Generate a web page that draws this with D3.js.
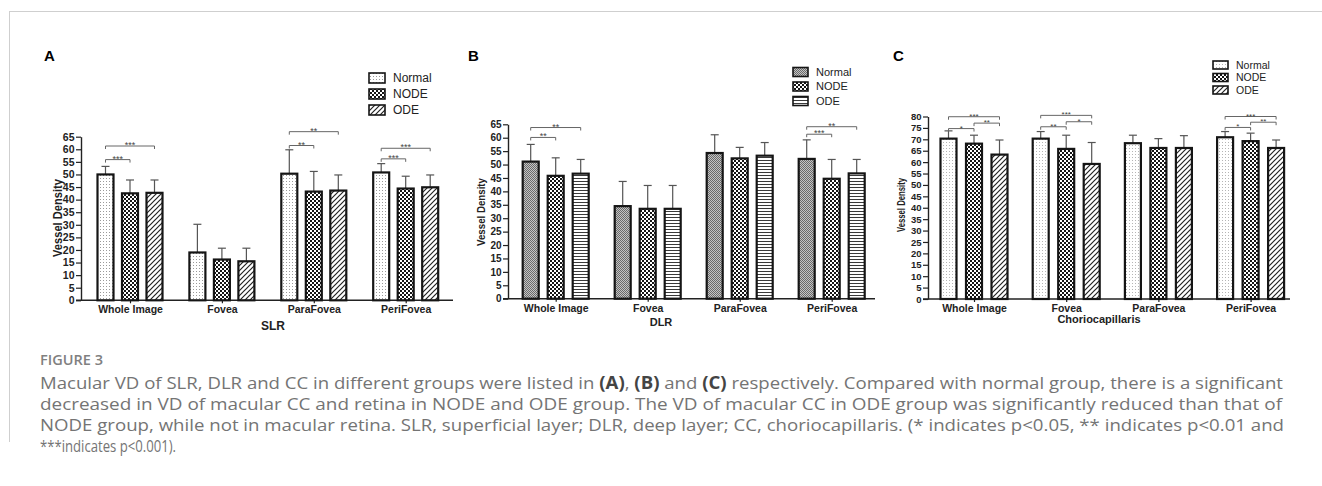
<!DOCTYPE html>
<html><head><meta charset="utf-8">
<script src="https://cdn.jsdelivr.net/npm/d3@7"></script>
<style>body{margin:0;background:#fff}svg{display:block}</style>
</head><body>
<script>
// ---------------- DATA ----------------
const categories = ["Whole Image", "Fovea", "ParaFovea", "PeriFovea"];
const groups = ["Normal", "NODE", "ODE"];

// SLR (A)
const slrNormal = [50.0, 19.0, 50.3, 50.8];
const slrNormalSD = [3.2, 11.2, 9.5, 3.5];
const slrNODE = [42.5, 16.2, 43.2, 44.4];
const slrNODESD = [5.3, 4.5, 8.0, 4.9];
const slrODE = [42.7, 15.5, 43.6, 44.9];
const slrODESD = [5.1, 5.2, 6.2, 4.9];
const slrSig = [[0, 0, 1, 55.9, "***"], [0, 0, 2, 61.3, "***"], [2, 0, 1, 61.5, "**"], [2, 0, 2, 67.0, "**"], [3, 0, 1, 56.2, "***"], [3, 0, 2, 60.4, "***"]];
const slrTicks = [0, 5, 10, 15, 20, 25, 30, 35, 40, 45, 50, 55, 60, 65];

// DLR (B)
const dlrNormal = [51.1, 34.5, 54.3, 52.1];
const dlrNormalSD = [6.4, 9.2, 6.8, 7.1];
const dlrNODE = [45.8, 33.5, 52.3, 44.7];
const dlrNODESD = [6.7, 8.7, 4.1, 7.2];
const dlrODE = [46.6, 33.5, 53.3, 46.7];
const dlrODESD = [5.3, 8.7, 4.9, 5.2];
const dlrSig = [[0, 0, 1, 60.1, "**"], [0, 0, 2, 63.8, "**"], [3, 0, 1, 61.3, "***"], [3, 0, 2, 64.1, "**"]];
const dlrTicks = [0, 5, 10, 15, 20, 25, 30, 35, 40, 45, 50, 55, 60, 65];

// Choriocapillaris (C)
const ccNormal = [70.3, 70.3, 68.3, 70.9];
const ccNormalSD = [3.4, 3.1, 3.5, 2.5];
const ccNODE = [68.1, 65.8, 66.2, 69.2];
const ccNODESD = [3.7, 6.0, 4.1, 3.5];
const ccODE = [63.3, 59.2, 66.2, 66.2];
const ccODESD = [6.4, 9.4, 5.4, 3.5];
const ccSig = [[0, 0, 1, 74.7, "*"], [0, 1, 2, 77.1, "**"], [0, 0, 2, 79.9, "***"], [1, 0, 1, 75.5, "**"], [1, 1, 2, 77.7, "*"], [1, 0, 2, 80.5, "***"], [3, 0, 1, 75.2, "*"], [3, 1, 2, 77.5, "**"], [3, 0, 2, 80.0, "***"]];
const ccTicks = [0, 5, 10, 15, 20, 25, 30, 35, 40, 45, 50, 55, 60, 65, 70, 75, 80];

const yTitle = "Vessel Density";
const figLabel = "FIGURE 3";
const captionLines = [
  [["Macular VD of SLR, DLR and CC in different groups were listed in ", 0], ["(A)", 1], [", ", 0], ["(B)", 1], [" and ", 0], ["(C)", 1], [" respectively. Compared with normal group, there is a significant", 0]],
  [["decreased in VD of macular CC and retina in NODE and ODE group. The VD of macular CC in ODE group was significantly reduced than that of", 0]],
  [["NODE group, while not in macular retina. SLR, superficial layer; DLR, deep layer; CC, choriocapillaris. (* indicates p<0.05, ** indicates p<0.01 and", 0]],
  [["***indicates p<0.001).", 0]]
];

// ---------------- DRAWING ----------------
const FONT = "'Liberation Sans', Arial, sans-serif";
const svg = d3.select("body").append("svg").attr("width", 1322).attr("height", 486);
const defs = svg.append("defs");
function pat(id, w, h, draw) {
  const p = defs.append("pattern").attr("id", id).attr("patternUnits", "userSpaceOnUse").attr("width", w).attr("height", h);
  draw(p);
}
pat("dotsA", 3, 3, p => { p.append("rect").attr("width", 3).attr("height", 3).attr("fill", "#fff"); p.append("rect").attr("x", 1).attr("y", 1).attr("width", 1).attr("height", 1).attr("fill", "#9a9a9a"); });
pat("dotsC", 3, 3, p => { p.append("rect").attr("width", 3).attr("height", 3).attr("fill", "#fff"); p.append("rect").attr("x", 1).attr("y", 1).attr("width", 1).attr("height", 1).attr("fill", "#b5b5b5"); });
pat("checker", 4, 4, p => { p.append("rect").attr("width", 4).attr("height", 4).attr("fill", "#151515"); p.append("rect").attr("x", 0).attr("y", 0).attr("width", 2).attr("height", 2).attr("fill", "#fff"); p.append("rect").attr("x", 2).attr("y", 2).attr("width", 2).attr("height", 2).attr("fill", "#fff"); });
pat("diag", 5, 5, p => { p.append("rect").attr("width", 5).attr("height", 5).attr("fill", "#fff"); p.append("path").attr("d", "M0,5L5,0M-1,1L1,-1M4,6L6,4").attr("stroke", "#222").attr("stroke-width", 1.2); });
pat("greyB", 2, 2, p => { p.append("rect").attr("width", 2).attr("height", 2).attr("fill", "#c4c4c4"); p.append("rect").attr("width", 1).attr("height", 1).attr("fill", "#6a6a6a"); p.append("rect").attr("x", 1).attr("y", 1).attr("width", 1).attr("height", 1).attr("fill", "#6a6a6a"); });
pat("hlines", 3, 3, p => { p.append("rect").attr("width", 3).attr("height", 3).attr("fill", "#fff"); p.append("rect").attr("y", 1).attr("width", 3).attr("height", 1).attr("fill", "#3a3a3a"); });

// frame lines
svg.append("line").attr("x1", 9).attr("x2", 1322).attr("y1", 11.5).attr("y2", 11.5).attr("stroke", "#cfcfcf");
svg.append("line").attr("x1", 9.5).attr("x2", 9.5).attr("y1", 11).attr("y2", 442).attr("stroke", "#cfcfcf");

function drawPanel(c) {
  const g = svg.append("g").style("font-family", FONT);
  const y = d3.scaleLinear().domain([0, c.yMax]).range([c.y0, c.yTop]);
  const x = d3.scalePoint().domain(categories).range([c.c0, c.c0 + c.step * 3]);
  const xs = d3.scalePoint().domain(groups).range([-c.off, c.off]);

  // y axis
  const ya = g.append("g").attr("transform", `translate(${c.x0},0)`)
    .call(d3.axisLeft(y).tickValues(c.ticks).tickSize(c.tickLen).tickSizeOuter(0).tickPadding(1.5));
  ya.select(".domain").attr("stroke", "#222").attr("stroke-width", 1.4);
  ya.selectAll(".tick line").attr("stroke", "#222").attr("stroke-width", 1.2);
  ya.selectAll(".tick text").attr("fill", "#222").style("font-size", c.tickFs + "px").style("font-weight", "bold").style("font-family", FONT);

  // x axis
  const xa = g.append("g").attr("transform", `translate(0,${c.y0})`)
    .call(d3.axisBottom(x).tickSize(3).tickPadding(2.5));
  xa.select(".domain").remove();
  xa.selectAll(".tick line").attr("stroke", "#222").attr("stroke-width", 1.2);
  xa.selectAll(".tick text").attr("fill", "#222").style("font-size", c.catFs + "px").style("font-weight", "bold").style("font-family", FONT);
  g.append("line").attr("x1", c.x0 - c.tickLen).attr("x2", c.x1).attr("y1", c.y0).attr("y2", c.y0).attr("stroke", "#222").attr("stroke-width", 1.4);

  // bars
  groups.forEach((gr, gi) => {
    const m = c.means[gi], s = c.sds[gi];
    categories.forEach((cat, ci) => {
      const cx = x(cat) + xs(gr);
      g.append("line").attr("x1", cx).attr("x2", cx).attr("y1", y(m[ci])).attr("y2", y(m[ci] + s[ci])).attr("stroke", "#555").attr("stroke-width", 1.2);
      g.append("line").attr("x1", cx - 4).attr("x2", cx + 4).attr("y1", y(m[ci] + s[ci])).attr("y2", y(m[ci] + s[ci])).attr("stroke", "#555").attr("stroke-width", 1.2);
      g.append("rect").attr("x", cx - c.barW / 2).attr("y", y(m[ci])).attr("width", c.barW).attr("height", c.y0 - y(m[ci]))
        .attr("fill", `url(#${c.pats[gi]})`).attr("stroke", "#151515").attr("stroke-width", 2.2);
    });
  });

  // significance brackets
  c.sig.forEach(([ci, a, b, v, lab]) => {
    const xa1 = x(categories[ci]) + xs(groups[a]), xb1 = x(categories[ci]) + xs(groups[b]), yy = y(v);
    g.append("path").attr("d", `M${xa1},${yy + 3}V${yy}H${xb1}V${yy + 3}`).attr("fill", "none").attr("stroke", "#666").attr("stroke-width", 1);
    g.append("text").attr("x", (xa1 + xb1) / 2).attr("y", yy + 2).attr("text-anchor", "middle").attr("fill", "#444").style("font-size", c.starFs + "px").text(lab);
  });

  // titles
  g.append("text").attr("transform", `translate(${c.ytX},${c.ytY}) rotate(-90)`).attr("text-anchor", "middle").attr("fill", "#222")
    .style("font-size", c.ytFs + "px").style("font-weight", "bold").attr("textLength", c.ytLen).attr("lengthAdjust", "spacingAndGlyphs").text(yTitle);
  g.append("text").attr("x", c.xtX).attr("y", c.xtY).attr("text-anchor", "middle").attr("fill", "#222").style("font-size", c.xtFs + "px").style("font-weight", "bold").text(c.xTitle);
  g.append("text").attr("x", c.lx).attr("y", c.ly).attr("fill", "#000").style("font-size", "15px").style("font-weight", "bold").text(c.label);

  // legend
  groups.forEach((gr, gi) => {
    const yy = c.legY + gi * c.legDy;
    g.append("rect").attr("x", c.legX).attr("y", yy - c.legH / 2).attr("width", c.legW).attr("height", c.legH)
      .attr("fill", `url(#${c.pats[gi]})`).attr("stroke", "#151515").attr("stroke-width", 1.6);
    g.append("text").attr("x", c.legX + c.legW + 8).attr("y", yy).attr("dy", "0.36em").attr("fill", "#222").style("font-size", c.legFs + "px").text(gr);
  });
}

drawPanel({
  label: "A", lx: 44, ly: 61, xTitle: "SLR", xtX: 273, xtY: 330, xtFs: 12,
  x0: 81, x1: 453, y0: 300.3, yTop: 136.7, yMax: 65, ticks: slrTicks, tickLen: 5, tickFs: 10.5,
  c0: 130, step: 91.9, off: 24.5, barW: 16, catFs: 10.5, starFs: 9,
  means: [slrNormal, slrNODE, slrODE], sds: [slrNormalSD, slrNODESD, slrODESD], sig: slrSig,
  pats: ["dotsA", "checker", "diag"],
  ytX: 62, ytY: 218, ytFs: 12, ytLen: 78,
  legX: 369, legY: 78, legDy: 16, legW: 16, legH: 10, legFs: 12
});
drawPanel({
  label: "B", lx: 468, ly: 61, xTitle: "DLR", xtX: 661, xtY: 326, xtFs: 11,
  x0: 508, x1: 875, y0: 298.7, yTop: 124.3, yMax: 65, ticks: dlrTicks, tickLen: 5, tickFs: 10,
  c0: 555.7, step: 92, off: 25, barW: 16, catFs: 10.5, starFs: 9,
  means: [dlrNormal, dlrNODE, dlrODE], sds: [dlrNormalSD, dlrNODESD, dlrODESD], sig: dlrSig,
  pats: ["greyB", "checker", "hlines"],
  ytX: 485, ytY: 212, ytFs: 11, ytLen: 68,
  legX: 793, legY: 72, legDy: 14.5, legW: 15, legH: 9, legFs: 11
});
drawPanel({
  label: "C", lx: 893, ly: 61, xTitle: "Choriocapillaris", xtX: 1099, xtY: 323, xtFs: 11,
  x0: 928, x1: 1290, y0: 299, yTop: 116.5, yMax: 80, ticks: ccTicks, tickLen: 5, tickFs: 9.5,
  c0: 974, step: 92.2, off: 25.5, barW: 16, catFs: 10.5, starFs: 8,
  means: [ccNormal, ccNODE, ccODE], sds: [ccNormalSD, ccNODESD, ccODESD], sig: ccSig,
  pats: ["dotsC", "checker", "diag"],
  ytX: 905, ytY: 205, ytFs: 10, ytLen: 54,
  legX: 1213, legY: 65, legDy: 12.5, legW: 15, legH: 8, legFs: 10.5
});

// caption
const cap = svg.append("g").style("font-family", "'Open Sans', sans-serif");
cap.append("text").attr("x", 40).attr("y", 365).attr("fill", "#808080").style("font-size", "13.5px").style("font-weight", "600")
  .attr("textLength", 63).attr("lengthAdjust", "spacingAndGlyphs").text(figLabel);
const lineEnds = [1283, 1282, 1284, 176];
captionLines.forEach((ln, i) => {
  const t = cap.append("text").attr("x", 40).attr("y", 388.5 + i * 21).attr("fill", "#747474").style("font-size", "17px")
    .attr("textLength", lineEnds[i] - 40).attr("lengthAdjust", "spacingAndGlyphs");
  ln.forEach(([s, b]) => t.append("tspan").style("font-weight", b ? "bold" : "normal").attr("fill", b ? "#444" : "#747474").text(s));
});
</script>
</body></html>
